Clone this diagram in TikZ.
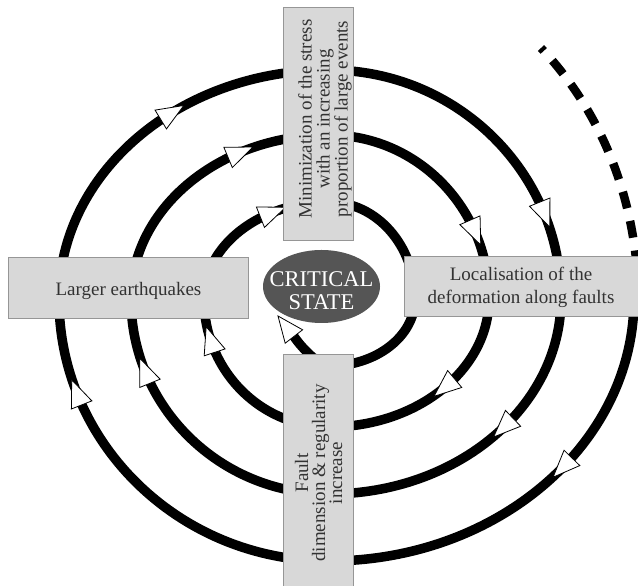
\documentclass[tikz,border=0pt]{standalone}
\usepackage{fontspec}
\setmainfont{Liberation Serif}
\usetikzlibrary{shapes.geometric,decorations.markings}
\definecolor{boxfill}{RGB}{216,216,216}
\definecolor{boxline}{RGB}{150,150,150}
\definecolor{boxink}{RGB}{50,50,50}
\definecolor{csfill}{RGB}{85,85,85}
\tikzset{
  spiral/.style={line width=9.5pt, draw=black},
  arrowat/.style={postaction={decorate}, decoration={markings, mark=at position #1 with {\draw[black, fill=white, line width=0.8pt, line join=miter] (14,0) -- (-13,11) -- (-13,-11) -- cycle;}}},
  infobox/.style={draw=boxline, fill=boxfill, line width=0.8pt, inner sep=0pt, rectangle},
  infotext/.style={inner sep=0pt, align=center, text=boxink, font=\fontsize{19}{#1}\selectfont},
}
\begin{document}
\begin{tikzpicture}[x=1pt,y=1pt]
\useasboundingbox (0,0) rectangle (638,586);
\fill[white] (0,0) rectangle (638,586);

\coordinate (D0) at (541,538);
\coordinate (R0) at (634,287);
\coordinate (B1) at (329,25);
\coordinate (L1) at (59,287);
\coordinate (T1) at (329,516);
\coordinate (R1) at (561,287);
\coordinate (B2) at (329,92);
\coordinate (L2) at (131,287);
\coordinate (T2) at (329,451);
\coordinate (R2) at (489,287);
\coordinate (B3) at (329,159);
\coordinate (L3) at (204,287);
\coordinate (T3) at (329,384);
\coordinate (R3) at (415,287);
\coordinate (B4) at (329,220);
\coordinate (E1) at (318,221);
\coordinate (E2) at (301,239);
\coordinate (E3) at (294,249.5);
\coordinate (tip) at (278,270);
\coordinate (tipa) at (302.6,256.2);
\coordinate (tipb) at (285.2,242.8);

\draw[line width=8.5pt, dash pattern=on 17pt off 13pt, dash phase=13pt] (D0) arc[start angle=46.7, end angle=3, x radius=309, y radius=345];

\draw[spiral, arrowat=0.42] (R0) arc[start angle=0, end angle=-90, x radius=305, y radius=262];
\draw[spiral, arrowat=0.77] (B1) arc[start angle=270, end angle=180, x radius=270, y radius=262];
\draw[spiral, arrowat=0.58] (L1) arc[start angle=180, end angle=90, x radius=270, y radius=229];
\draw[spiral, arrowat=0.76] (T1) arc[start angle=90, end angle=0, x radius=232, y radius=229];
\draw[spiral, arrowat=0.43] (R1) arc[start angle=0, end angle=-90, x radius=232, y radius=195];
\draw[spiral, arrowat=0.76] (B2) arc[start angle=270, end angle=180, x radius=198, y radius=195];
\draw[spiral, arrowat=0.68] (L2) arc[start angle=180, end angle=90, x radius=198, y radius=164];
\draw[spiral, arrowat=0.73] (T2) arc[start angle=90, end angle=0, x radius=160, y radius=164];
\draw[spiral, arrowat=0.45] (R2) arc[start angle=0, end angle=-90, x radius=160, y radius=128];
\draw[spiral, arrowat=0.79] (B3) arc[start angle=270, end angle=180, x radius=125, y radius=128];
\draw[spiral, arrowat=0.67] (L3) arc[start angle=180, end angle=90, x radius=125, y radius=97];
\draw[spiral] (T3) arc[start angle=90, end angle=0, x radius=86, y radius=97];
\draw[spiral] (R3) arc[start angle=0, end angle=-90, x radius=86, y radius=67];
\draw[spiral] (B4) .. controls (E1) and (E2) .. (E3);
\draw[black, fill=white, line width=0.8pt] (tip) -- (tipa) -- (tipb) -- cycle;

\node[infobox, minimum width=70pt, minimum height=233pt] (topbox) at (318,462.5) {};
\node[infotext=18pt, rotate=90] (toptext) at (325,467) {Minimization of the stress\\with an increasing\\proportion of large events};
\node[infobox, minimum width=240pt, minimum height=61pt] (leftbox) at (128,298.5) {};
\node[infotext=23pt] (lefttext) at (128.5,295.5) {Larger earthquakes};
\node[infobox, minimum width=234pt, minimum height=60pt] (rightbox) at (521,300) {};
\node[infotext=23pt] (righttext) at (521,299) {Localisation of the\\deformation along faults};
\node[infobox, minimum width=70pt, minimum height=232pt] (botbox) at (318,116) {};
\node[infotext=17pt, rotate=90] (bottext) at (318.5,113) {Fault\\dimension \& regularity\\increase};
\node[ellipse, fill=csfill, minimum width=117pt, minimum height=73pt, inner sep=0pt] (cs) at (321.5,299.5) {};
\node[inner sep=0pt, align=center, text=white, font=\fontsize{22.5}{23}\selectfont] (cstext) at ([yshift=-4.5pt]cs.center) {CRITICAL\\STATE};
\end{tikzpicture}
\end{document}
